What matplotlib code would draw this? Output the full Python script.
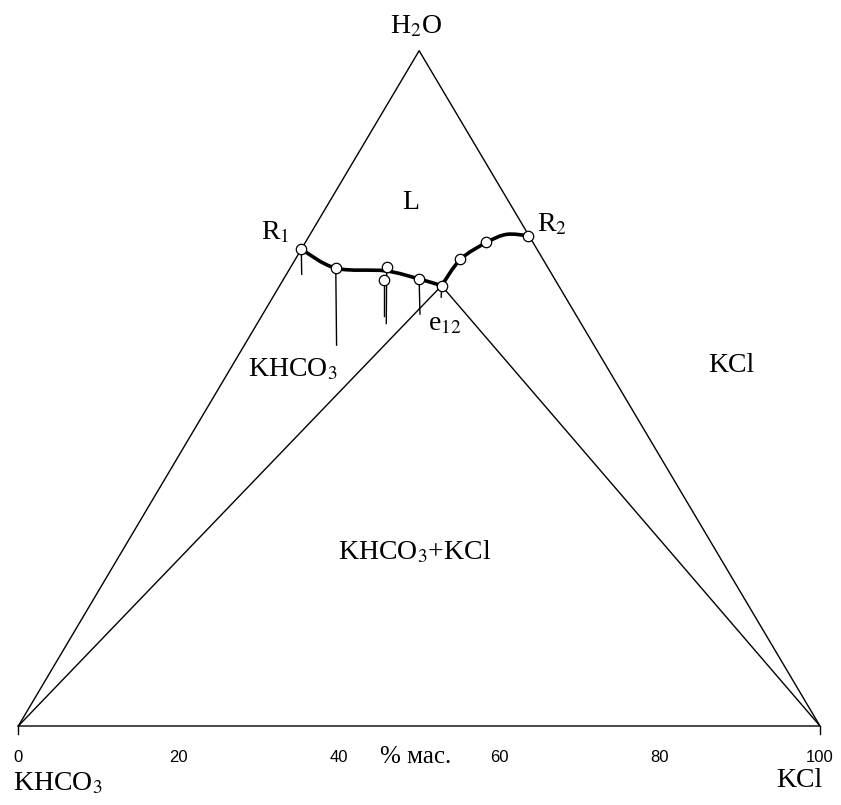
import matplotlib.pyplot as plt
import numpy as np
from matplotlib.path import Path
from matplotlib.patches import PathPatch

plt.rcParams["font.family"] = ["Liberation Serif", "DejaVu Serif"]
plt.rcParams["mathtext.fontset"] = "stix"

# Составы в % мас.: (KCl, H2O), остальное KHCO3
liquid_kcl = [0.0, 5.7, 12.0, 12.6, 16.9, 20.2, 20.6, 22.6, 27.3]
liquid_h2o = [70.6, 67.8, 67.9, 66.1, 66.2, 65.2, 69.1, 71.6, 72.6]

# Концы лучей (состав остатков) для тех же точек
residue_kcl = [1.9, 11.5, 16.1, 15.3, 19.6, 21.0]
residue_h2o = [66.9, 56.4, 59.6, 60.7, 61.0, 63.5]

# Кривые растворимости (ветви KHCO3 и KCl)
branch1_kcl = [0.0, 5.7, 12.1, 16.9, 20.2]
branch1_h2o = [70.6, 67.8, 67.4, 66.2, 65.2]
branch2_kcl = [20.2, 20.6, 22.6, 24.5, 27.3]
branch2_h2o = [65.2, 69.1, 71.6, 72.8, 72.6]

tick_values = [0, 20, 40, 60, 80, 100]


def to_xy(kcl, h2o):
    kcl = np.asarray(kcl, dtype=float)
    h2o = np.asarray(h2o, dtype=float)
    return kcl + h2o / 2, h2o


def smooth_path(x, y):
    # кривая Безье через точки (Catmull-Rom)
    pts = np.column_stack([x, y])
    ext = np.vstack([pts[0], pts, pts[-1]])
    verts = [pts[0]]
    codes = [Path.MOVETO]
    for i in range(len(pts) - 1):
        p0, p1, p2, p3 = ext[i], ext[i + 1], ext[i + 2], ext[i + 3]
        verts += [p1 + (p2 - p0) / 6, p2 - (p3 - p1) / 6, p2]
        codes += [Path.CURVE4] * 3
    return Path(verts, codes)


fig = plt.figure(figsize=(8.41, 8.05), dpi=100)
ax = fig.add_axes([18.3 / 841, 79 / 805, 801.7 / 841, 675.3 / 805])
ax.set_xlim(0, 100)
ax.set_ylim(0, 100)
ax.axis("off")

lw = 1.0
# треугольник
tx, ty = to_xy([0, 100, 0, 0], [0, 0, 100, 0])
ax.plot(tx, ty, color="black", lw=lw, clip_on=False)

# линии от вершин к эвтонической точке
ex, ey = to_xy(liquid_kcl[5], liquid_h2o[5])
vx, vy = to_xy([0, 100], [0, 0])
for i in range(2):
    ax.plot([vx[i], ex], [vy[i], ey], color="black", lw=lw)

# небольшие риски у вершин
for v in [0, 100]:
    ax.plot([v, v], [0, -1.2], color="black", lw=lw, clip_on=False)

# лучи
lx, ly = to_xy(liquid_kcl, liquid_h2o)
rx, ry = to_xy(residue_kcl, residue_h2o)
for i in range(len(residue_kcl)):
    ax.plot([lx[i], rx[i]], [ly[i], ry[i]], color="black", lw=lw, zorder=2)

# кривые растворимости
for bk, bh in [(branch1_kcl, branch1_h2o), (branch2_kcl, branch2_h2o)]:
    bx, by = to_xy(bk, bh)
    ax.add_patch(PathPatch(smooth_path(bx, by), fill=False, lw=2.6,
                           edgecolor="black", capstyle="round", zorder=3))

ax.plot(lx, ly, "o", ms=7.5, mfc="white", mec="black", mew=0.9,
        zorder=4, clip_on=False)

# подписи
fs = 20
ax.text(49.6, 102.6, "H$_2$O", fontsize=fs, ha="center", va="baseline")
ax.text(48.9, 76.5, "L", fontsize=fs, ha="center", va="baseline")
ax.text(33.8, 72.0, "R$_1$", fontsize=fs, ha="right", va="baseline")
ax.text(64.7, 73.2, "R$_2$", fontsize=fs, ha="left", va="baseline")
ax.text(51.1, 58.6, "e$_{12}$", fontsize=fs, ha="left", va="baseline")
ax.text(28.7, 51.7, "KHCO$_3$", fontsize=fs, ha="left", va="baseline")
ax.text(86.0, 52.4, "KCl", fontsize=fs, ha="left", va="baseline")
ax.text(49.5, 24.6, "KHCO$_3$+KCl", fontsize=fs, ha="center",
        va="baseline")

for v in tick_values:
    ax.text(v, -4.6, str(v), fontsize=12, ha="center", va="center",
            family="Liberation Sans")
ax.text(49.5, -4.6, "% мас.", fontsize=18, ha="center", va="center")
ax.text(-0.7, -9.5, "KHCO$_3$", fontsize=fs, ha="left", va="baseline")
ax.text(100.3, -9.0, "KCl", fontsize=fs, ha="right", va="baseline")

fig.savefig("out.png", dpi=100)
